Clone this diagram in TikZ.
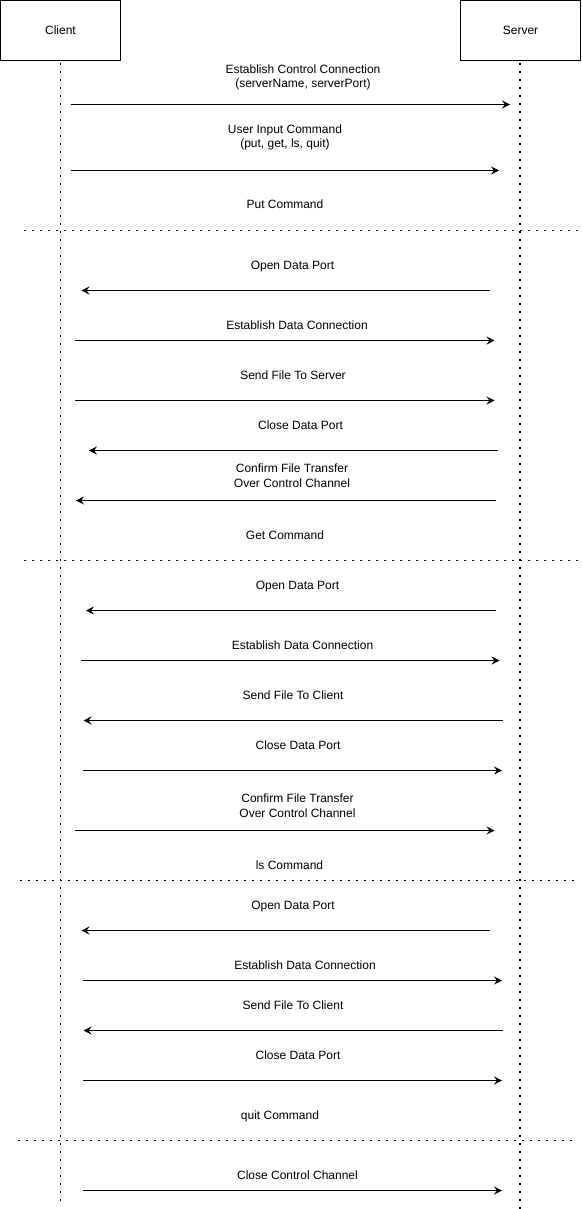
\documentclass[tikz,border=0pt]{standalone}
\usepackage{fontspec}
\setmainfont{Liberation Sans}
\usetikzlibrary{arrows.meta}
\begin{document}
\begin{tikzpicture}[x=1pt,y=-1pt,
  actor/.style={draw, line width=1pt, minimum width=120pt, minimum height=60pt, inner sep=0pt, font=\fontsize{12}{14.4}\selectfont},
  lbl/.style={font=\fontsize{12}{14.6}\selectfont, align=center, inner sep=0pt, text depth=2.6pt, yshift=-0.8pt},
  msg/.style={line width=1pt, -{Stealth[length=8pt,width=8pt,inset=3pt]}},
  life/.style={line width=1.7pt, dash pattern=on 1.7pt off 6.3pt},
  divider/.style={line width=1.7pt, dash pattern=on 1.7pt off 6.3pt}]
\useasboundingbox (0,0) rectangle (581,1209);
% participants
\node[actor] (client) at (60.5,30.5) {Client};
\node[actor] (server) at (520.5,30.5) {Server};
% lifelines
\coordinate (clientEnd) at (60.5,1202);
\coordinate (serverEnd) at (520,1209);
\draw[life] ([yshift=-2pt]client.south) -- (clientEnd);
\draw[life] ([xshift=-0.5pt,yshift=-2pt]server.south) -- (serverEnd);
% dividers
\coordinate (d1a) at (24,230.5);  \coordinate (d1b) at (581,230.5);
\coordinate (d2a) at (24,560.5);  \coordinate (d2b) at (581,560.5);
\coordinate (d3a) at (20,880.5);  \coordinate (d3b) at (574,880.5);
\coordinate (d4a) at (18,1140.5); \coordinate (d4b) at (574,1140.5);
\draw[divider] (d1a) -- (d1b);
\draw[divider] (d2a) -- (d2b);
\draw[divider] (d3a) -- (d3b);
\draw[divider] (d4a) -- (d4b);
% labels
\node[lbl] (l1)  at (303,76.5)   {Establish Control Connection\\(serverName, serverPort)};
\node[lbl] (l2)  at (285,136.5)  {User Input Command\\(put, get, ls, quit)};
\node[lbl] (h1)  at (285,205)    {Put Command};
\node[lbl] (l3)  at (292.5,265.7){Open Data Port};
\node[lbl] (l4)  at (297,325.7)  {Establish Data Connection};
\node[lbl] (l5)  at (293,375.7)  {Send File To Server};
\node[lbl] (l6)  at (300.5,425.7){Close Data Port};
\node[lbl] (l7)  at (292,476.2)  {Confirm File Transfer\\Over Control Channel};
\node[lbl] (h2)  at (285,535.7)  {Get Command};
\node[lbl] (l8)  at (297.5,585.7){Open Data Port};
\node[lbl] (l9)  at (302.5,645.7){Establish Data Connection};
\node[lbl] (l10) at (293,695.7)  {Send File To Client};
\node[lbl] (l11) at (298,745.7)  {Close Data Port};
\node[lbl] (l12) at (297.5,806)  {Confirm File Transfer\\Over Control Channel};
\node[lbl] (h3)  at (289.5,865.7){ls Command};
\node[lbl] (l13) at (293,905.7)  {Open Data Port};
\node[lbl] (l14) at (305,965.7)  {Establish Data Connection};
\node[lbl] (l15) at (293,1005.7) {Send File To Client};
\node[lbl] (l16) at (298,1055.7) {Close Data Port};
\node[lbl] (h4)  at (280,1115.7) {quit Command};
\node[lbl] (l17) at (297.5,1175.7){Close Control Channel};
% message end points
\coordinate (a1s)  at (70.5,104.5);  \coordinate (a1e)  at (510,104.5);
\coordinate (a2s)  at (70.5,170.5);  \coordinate (a2e)  at (499,170.5);
\coordinate (a3s)  at (490,290.5);   \coordinate (a3e)  at (81.5,290.5);
\coordinate (a4s)  at (75,340.5);    \coordinate (a4e)  at (494.5,340.5);
\coordinate (a5s)  at (75,400.5);    \coordinate (a5e)  at (494.5,400.5);
\coordinate (a6s)  at (498,450.5);   \coordinate (a6e)  at (89,450.5);
\coordinate (a7s)  at (495.5,500.5); \coordinate (a7e)  at (76,500.5);
\coordinate (a8s)  at (495.5,610.5); \coordinate (a8e)  at (86,610.5);
\coordinate (a9s)  at (80.5,660.5);  \coordinate (a9e)  at (499.5,660.5);
\coordinate (a10s) at (502.5,720.5); \coordinate (a10e) at (83.5,720.5);
\coordinate (a11s) at (83,770.5);    \coordinate (a11e) at (502,770.5);
\coordinate (a12s) at (75,830.5);    \coordinate (a12e) at (494.5,830.5);
\coordinate (a13s) at (490,930.5);   \coordinate (a13e) at (81.5,930.5);
\coordinate (a14s) at (83,980.5);    \coordinate (a14e) at (502,980.5);
\coordinate (a15s) at (502.5,1030.5);\coordinate (a15e) at (83.5,1030.5);
\coordinate (a16s) at (83,1080.5);   \coordinate (a16e) at (502,1080.5);
\coordinate (a17s) at (83,1190.5);   \coordinate (a17e) at (502,1190.5);
\foreach \i in {1,...,17} {\draw[msg] (a\i s) -- (a\i e);}
\end{tikzpicture}
\end{document}
